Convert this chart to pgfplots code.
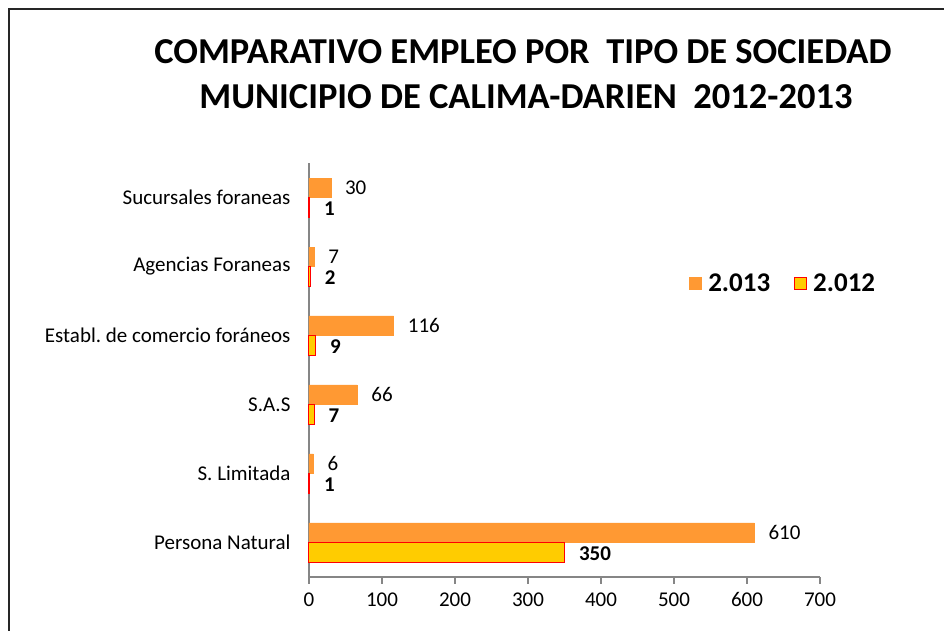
\documentclass[border=0pt]{standalone}
\usepackage{pgfplots}
\pgfplotsset{compat=1.18}
\usepackage{fontspec}
\setmainfont{Carlito}
\definecolor{barorange}{RGB}{255,153,51}
\definecolor{baryellow}{RGB}{255,204,0}
\definecolor{barred}{RGB}{255,0,0}
\definecolor{axisgray}{RGB}{134,134,134}
\begin{document}
\begin{tikzpicture}
\begin{axis}[
  name=main,
  scale only axis, width=511pt, height=414pt,
  xmin=0, xmax=700, ymin=-0.5, ymax=5.5,
  axis lines*=left,
  axis line style={draw=axisgray, line width=1.2pt},
  xtick={0,100,...,700},
  ytick={0,...,5},
  yticklabels={Persona Natural,S. Limitada,S.A.S,Establ.\ de comercio foráneos,Agencias Foraneas,Sucursales foraneas},
  y tick style={draw=none},
  x tick style={draw=axisgray, line width=1.2pt},
  extra y ticks={-0.5,0.5,...,5.5},
  extra y tick labels={},
  extra y tick style={tick style={draw=axisgray, line width=1.2pt}},
  tick align=outside, major tick length=7pt,
  tick label style={font=\fontsize{21}{25}\selectfont},
  /pgf/number format/assume math mode=true,
  yticklabel style={xshift=-8pt},
  xticklabel style={yshift=-5pt},
  xbar, bar width=19.5pt,
  clip=false,
  legend style={at={(0.928,0.71)}, anchor=center, draw=none, fill=none,
    legend columns=2, font=\bfseries\fontsize{27}{31}\selectfont,
    /tikz/every odd column/.append style={column sep=4pt},
    /tikz/every even column/.append style={column sep=22pt}},
  legend image code/.code={\draw[#1, line width=1pt] (0pt,-6pt) rectangle (12pt,6pt);},
]
\addplot[fill=barorange, draw=barorange, bar shift=9.75pt,
  nodes near coords, every node near coord/.append style={anchor=west, inner sep=0pt, xshift=14pt, font=\fontsize{21}{25}\selectfont, text=black}]
  coordinates {(610,0) (6,1) (66,2) (116,3) (7,4) (30,5)};
\addlegendentry{2.013}
\addplot[fill=baryellow, draw=barred, line width=1pt, bar shift=-9.75pt,
  nodes near coords, every node near coord/.append style={anchor=west, inner sep=0pt, xshift=14pt, yshift=-1.5pt, font=\bfseries\fontsize{21}{25}\selectfont, text=black}]
  coordinates {(350,0) (1,1) (7,2) (9,3) (2,4) (1,5)};
\addlegendentry{2.012}
\end{axis}
\path (main.south west) ++(-309pt,-54pt) coordinate (O);
\begin{scope}[shift={(O)}, x=1pt, y=1pt]
\draw[line width=2pt, color=black!85] (9.5,-20) -- (9.5,621.5) -- (980,621.5);
\node[font=\bfseries\fontsize{36.5}{42}\selectfont, anchor=center] at (523,579) {COMPARATIVO EMPLEO POR\ \ TIPO DE SOCIEDAD};
\node[font=\bfseries\fontsize{36.5}{42}\selectfont, anchor=center] at (526,534) {MUNICIPIO DE CALIMA-DARIEN\ \ 2012-2013};
\pgfresetboundingbox
\useasboundingbox (0,0) rectangle (944,631);
\end{scope}
\end{tikzpicture}
\end{document}
